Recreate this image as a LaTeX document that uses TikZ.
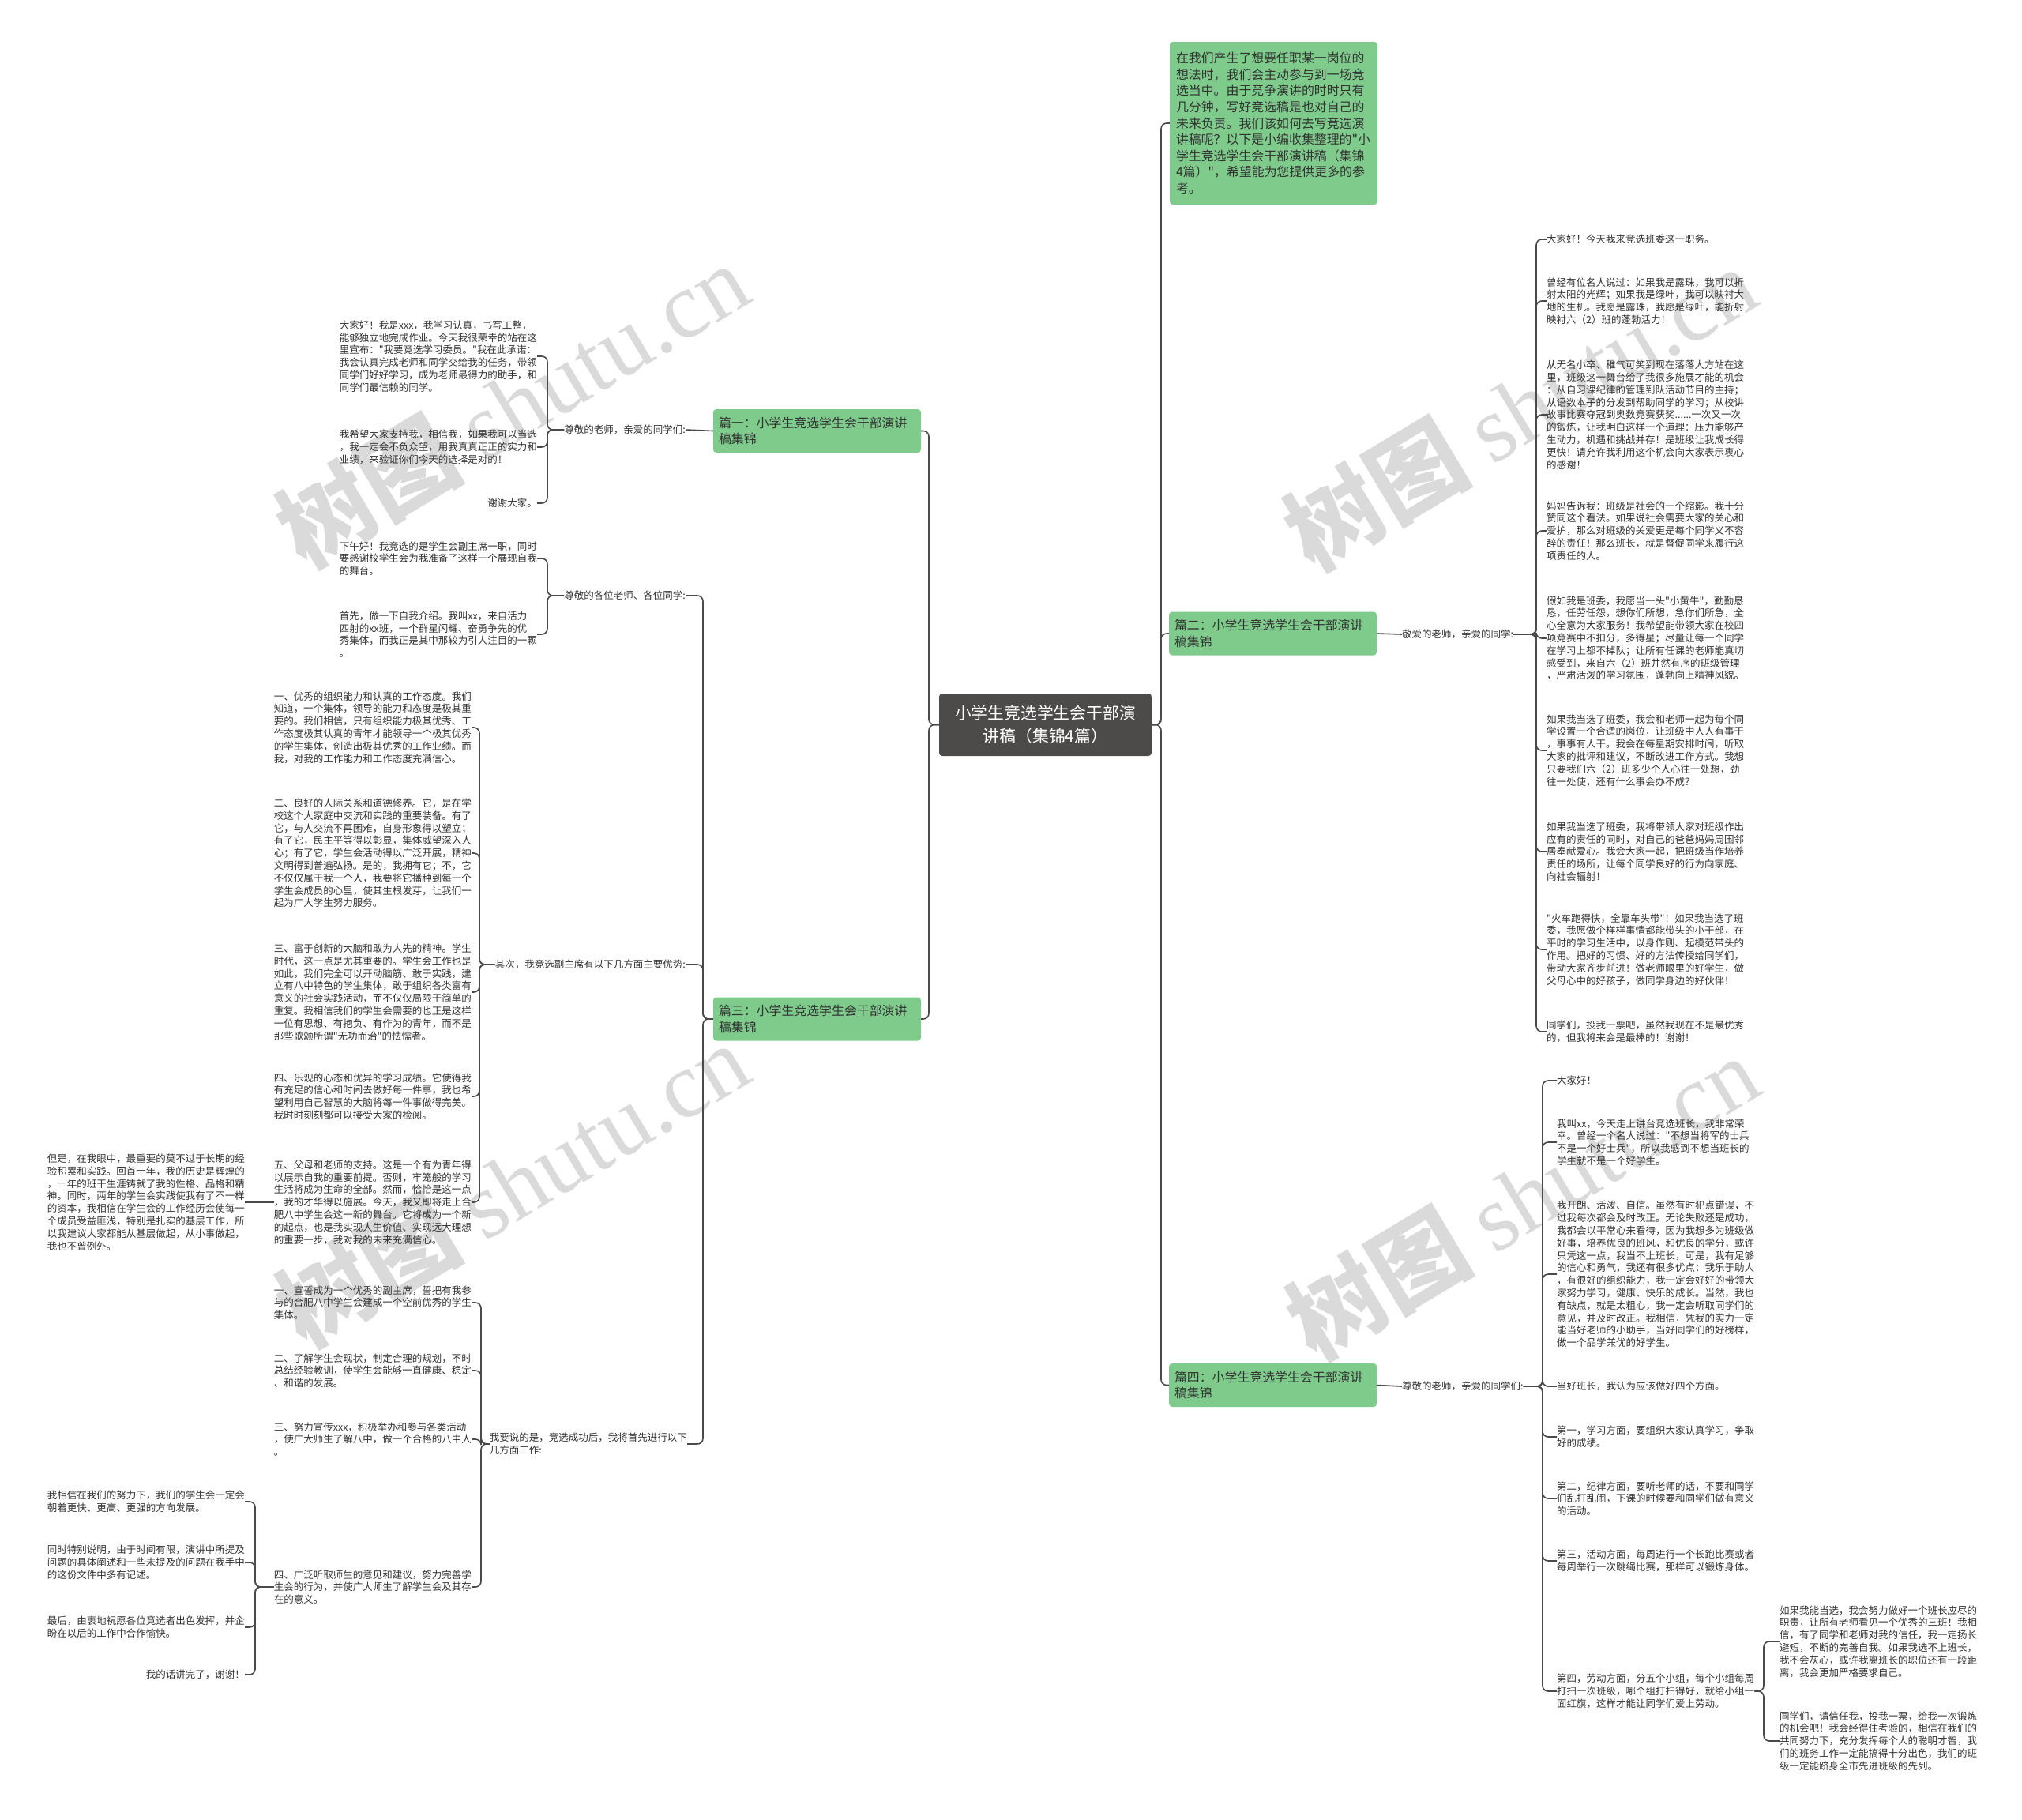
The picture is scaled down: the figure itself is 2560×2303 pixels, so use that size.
\documentclass[tikz,border=0pt]{standalone}
\usepackage{fontspec}
\newfontfamily\cjkf{Noto Sans CJK SC}
\newfontfamily\wmlat{Liberation Serif}
\definecolor{gc}{HTML}{7ECB8C}
\definecolor{cc}{HTML}{4D4A4A}
\definecolor{lc}{HTML}{4A4A4A}
\definecolor{txtc}{HTML}{333333}
\definecolor{wmc}{HTML}{DADADA}
\begin{document}
\begin{tikzpicture}[x=1pt,y=-1pt,
  txt/.style={font=\cjkf\fontsize{12.5}{15.8}\selectfont, align=left, inner sep=0pt, text=txtc},
  lt/.style={txt, anchor=east},
  rt/.style={txt, anchor=west},
  greenbox/.style={fill=gc, rounded corners=4pt, text=txtc, align=left,
     font=\cjkf\fontsize{15.9}{20.6}\selectfont},
  branch/.style={greenbox, text width=249pt, inner xsep=7pt, inner ysep=0pt, minimum height=55pt},
  conn/.style={draw=lc, line width=1.6pt, rounded corners=7pt},
  wm/.style={rotate=31, text=wmc, font=\cjkf\fontsize{119}{119}\selectfont, inner sep=0pt}
]
\useasboundingbox[fill=white] (0,0) rectangle (2560,2303);

% watermarks
\node[wm] (wm1) at (648,512) {{\bfseries 树图} {\wmlat shutu.cn}};
\node[wm] (wm2) at (1924,516) {{\bfseries 树图} {\wmlat shutu.cn}};
\node[wm] (wm3) at (648,1499) {{\bfseries 树图} {\wmlat shutu.cn}};
\node[wm] (wm4) at (1927,1515) {{\bfseries 树图} {\wmlat shutu.cn}};

% central
\node[fill=cc, text=white, rounded corners=4pt, align=center, minimum width=269pt, minimum height=79pt,
  inner sep=0pt, font=\cjkf\fontsize{20.8}{29}\selectfont] (c) at (1323.5,917.5) {小学生竞选学生会干部演\\讲稿（集锦4篇）};

% intro
\node[greenbox, text width=247pt, inner xsep=8pt, inner ysep=0pt, minimum height=206pt] (intro) at (1612.5,156)
 {在我们产生了想要任职某一岗位的\\想法时，我们会主动参与到一场竞\\选当中。由于竞争演讲的时时只有\\几分钟，写好竞选稿是也对自己的\\未来负责。我们该如何去写竞选演\\讲稿呢？以下是小编收集整理的"小\\学生竞选学生会干部演讲稿（集锦\\4篇）"，希望能为您提供更多的参\\考。};

% branches
\node[branch] (p1) at (1034.5,545.5) {篇一：小学生竞选学生会干部演讲\\稿集锦};
\node[branch] (p3) at (1034.5,1290) {篇三：小学生竞选学生会干部演讲\\稿集锦};
\node[branch] (p2) at (1611.5,802) {篇二：小学生竞选学生会干部演讲\\稿集锦};
\node[branch] (p4) at (1611.5,1753.5) {篇四：小学生竞选学生会干部演讲\\稿集锦};

% labels
\node[lt] (l1) at (868,544) {尊敬的老师，亲爱的同学们:};
\node[lt] (l2) at (868,754) {尊敬的各位老师、各位同学:};
\node[lt] (l3) at (868,1221) {其次，我竞选副主席有以下几方面主要优势:};
\node[lt] (l4) at (870,1828) {我要说的是，竞选成功后，我将首先进行以下\\几方面工作:};
\node[rt] (r1) at (1775,803) {敬爱的老师，亲爱的同学:};
\node[rt] (r2) at (1775,1755) {尊敬的老师，亲爱的同学们:};

% group 1
\node[lt] (t1a) at (680,451) {大家好！我是xxx，我学习认真，书写工整，\\能够独立地完成作业。今天我很荣幸的站在这\\里宣布："我要竞选学习委员。"我在此承诺：\\我会认真完成老师和同学交给我的任务，带领\\同学们好好学习，成为老师最得力的助手，和\\同学们最信赖的同学。};
\node[lt] (t1b) at (680,566) {我希望大家支持我，相信我，如果我可以当选\\，我一定会不负众望，用我真真正正的实力和\\业绩，来验证你们今天的选择是对的！};
\node[lt] (t1c) at (680,637) {谢谢大家。};

% group 2
\node[lt] (t2a) at (680,707) {下午好！我竞选的是学生会副主席一职，同时\\要感谢校学生会为我准备了这样一个展现自我\\的舞台。};
\node[lt] (t2b) at (680,803) {首先，做一下自我介绍。我叫xx，来自活力\\四射的xx班，一个群星闪耀、奋勇争先的优\\秀集体，而我正是其中那较为引人注目的一颗\\。};

% group 3
\node[lt] (t3a) at (597,921) {一、优秀的组织能力和认真的工作态度。我们\\知道，一个集体，领导的能力和态度是极其重\\要的。我们相信，只有组织能力极其优秀、工\\作态度极其认真的青年才能领导一个极其优秀\\的学生集体，创造出极其优秀的工作业绩。而\\我，对我的工作能力和工作态度充满信心。};
\node[lt] (t3b) at (597,1080) {二、良好的人际关系和道德修养。它，是在学\\校这个大家庭中交流和实践的重要装备。有了\\它，与人交流不再困难，自身形象得以塑立；\\有了它，民主平等得以彰显，集体威望深入人\\心；有了它，学生会活动得以广泛开展，精神\\文明得到普遍弘扬。是的，我拥有它；不，它\\不仅仅属于我一个人，我要将它播种到每一个\\学生会成员的心里，使其生根发芽，让我们一\\起为广大学生努力服务。};
\node[lt] (t3c) at (597,1256) {三、富于创新的大脑和敢为人先的精神。学生\\时代，这一点是尤其重要的。学生会工作也是\\如此，我们完全可以开动脑筋、敢于实践，建\\立有八中特色的学生集体，敢于组织各类富有\\意义的社会实践活动，而不仅仅局限于简单的\\重复。我相信我们的学生会需要的也正是这样\\一位有思想、有抱负、有作为的青年，而不是\\那些歌颂所谓"无功而治"的怯懦者。};
\node[lt] (t3d) at (597,1388) {四、乐观的心态和优异的学习成绩。它使得我\\有充足的信心和时间去做好每一件事，我也希\\望利用自己智慧的大脑将每一件事做得完美。\\我时时刻刻都可以接受大家的检阅。};
\node[lt] (t3e) at (597,1522) {五、父母和老师的支持。这是一个有为青年得\\以展示自我的重要前提。否则，牢笼般的学习\\生活将成为生命的全部。然而，恰恰是这一点\\，我的才华得以施展。今天，我又即将走上合\\肥八中学生会这一新的舞台。它将成为一个新\\的起点，也是我实现人生价值、实现远大理想\\的重要一步，我对我的未来充满信心。};
\node[lt] (t3f) at (310,1522) {但是，在我眼中，最重要的莫不过于长期的经\\验积累和实践。回首十年，我的历史是辉煌的\\，十年的班干生涯铸就了我的性格、品格和精\\神。同时，两年的学生会实践使我有了不一样\\的资本，我相信在学生会的工作经历会使每一\\个成员受益匪浅，特别是扎实的基层工作，所\\以我建议大家都能从基层做起，从小事做起，\\我也不曾例外。};

% group 4
\node[lt] (t4a) at (597,1649) {一、宣誓成为一个优秀的副主席，誓把有我参\\与的合肥八中学生会建成一个空前优秀的学生\\集体。};
\node[lt] (t4b) at (597,1735) {二、了解学生会现状，制定合理的规划，不时\\总结经验教训，使学生会能够一直健康、稳定\\、和谐的发展。};
\node[lt] (t4c) at (597,1822) {三、努力宣传xxx，积极举办和参与各类活动\\，使广大师生了解八中，做一个合格的八中人\\。};
\node[lt] (t4d) at (597,2009) {四、广泛听取师生的意见和建议，努力完善学\\生会的行为，并使广大师生了解学生会及其存\\在的意义。};

% group 5
\node[lt] (t5a) at (310,1901) {我相信在我们的努力下，我们的学生会一定会\\朝着更快、更高、更强的方向发展。};
\node[lt] (t5b) at (310,1978) {同时特别说明，由于时间有限，演讲中所提及\\问题的具体阐述和一些未提及的问题在我手中\\的这份文件中多有记述。};
\node[lt] (t5c) at (310,2060) {最后，由衷地祝愿各位竞选者出色发挥，并企\\盼在以后的工作中合作愉快。};
\node[lt] (t5d) at (310,2120) {我的话讲完了，谢谢！};

% right group (篇二)
\node[rt] (s1a) at (1958,303) {大家好！今天我来竞选班委这一职务。};
\node[rt] (s1b) at (1958,381) {曾经有位名人说过：如果我是露珠，我可以折\\射太阳的光辉；如果我是绿叶，我可以映衬大\\地的生机。我愿是露珠，我愿是绿叶，能折射\\映衬六（2）班的蓬勃活力！};
\node[rt] (s1c) at (1958,525) {从无名小卒、稚气可笑到现在落落大方站在这\\里，班级这一舞台给了我很多施展才能的机会\\：从自习课纪律的管理到队活动节目的主持；\\从语数本子的分发到帮助同学的学习；从校讲\\故事比赛夺冠到奥数竞赛获奖......一次又一次\\的锻炼，让我明白这样一个道理：压力能够产\\生动力，机遇和挑战并存！是班级让我成长得\\更快！请允许我利用这个机会向大家表示衷心\\的感谢！};
\node[rt] (s1d) at (1958,672) {妈妈告诉我：班级是社会的一个缩影。我十分\\赞同这个看法。如果说社会需要大家的关心和\\爱护，那么对班级的关爱更是每个同学义不容\\辞的责任！那么班长，就是督促同学来履行这\\项责任的人。};
\node[rt] (s1e) at (1958,808) {假如我是班委，我愿当一头"小黄牛"，勤勤恳\\恳，任劳任怨，想你们所想，急你们所急，全\\心全意为大家服务！我希望能带领大家在校四\\项竞赛中不扣分，多得星；尽量让每一个同学\\在学习上都不掉队；让所有任课的老师能真切\\感受到，来自六（2）班井然有序的班级管理\\，严肃活泼的学习氛围，蓬勃向上精神风貌。};
\node[rt] (s1f) at (1958,950) {如果我当选了班委，我会和老师一起为每个同\\学设置一个合适的岗位，让班级中人人有事干\\，事事有人干。我会在每星期安排时间，听取\\大家的批评和建议，不断改进工作方式。我想\\只要我们六（2）班多少个人心往一处想，劲\\往一处使，还有什么事会办不成？};
\node[rt] (s1g) at (1958,1078) {如果我当选了班委，我将带领大家对班级作出\\应有的责任的同时，对自己的爸爸妈妈周围邻\\居奉献爱心。我会大家一起，把班级当作培养\\责任的场所，让每个同学良好的行为向家庭、\\向社会辐射！};
\node[rt] (s1h) at (1958,1202) {"火车跑得快，全靠车头带"！如果我当选了班\\委，我愿做个样样事情都能带头的小干部，在\\平时的学习生活中，以身作则、起模范带头的\\作用。把好的习惯、好的方法传授给同学们，\\带动大家齐步前进！做老师眼里的好学生，做\\父母心中的好孩子，做同学身边的好伙伴！};
\node[rt] (s1i) at (1958,1306) {同学们，投我一票吧，虽然我现在不是最优秀\\的，但我将来会是最棒的！谢谢！};

% right group (篇四)
\node[rt] (s2a) at (1971,1368) {大家好！};
\node[rt] (s2b) at (1971,1446) {我叫xx，今天走上讲台竞选班长，我非常荣\\幸。曾经一个名人说过："不想当将军的士兵\\不是一个好士兵"，所以我感到不想当班长的\\学生就不是一个好学生。};
\node[rt] (s2c) at (1971,1613) {我开朗、活泼、自信。虽然有时犯点错误，不\\过我每次都会及时改正。无论失败还是成功，\\我都会以平常心来看待，因为我想多为班级做\\好事，培养优良的班风，和优良的学分，或许\\只凭这一点，我当不上班长，可是，我有足够\\的信心和勇气，我还有很多优点：我乐于助人\\，有很好的组织能力，我一定会好好的带领大\\家努力学习，健康、快乐的成长。当然，我也\\有缺点，就是太粗心，我一定会听取同学们的\\意见，并及时改正。我相信，凭我的实力一定\\能当好老师的小助手，当好同学们的好榜样，\\做一个品学兼优的好学生。};
\node[rt] (s2d) at (1971,1755) {当好班长，我认为应该做好四个方面。};
\node[rt] (s2e) at (1971,1819) {第一，学习方面，要组织大家认真学习，争取\\好的成绩。};
\node[rt] (s2f) at (1971,1897) {第二，纪律方面，要听老师的话，不要和同学\\们乱打乱闹，下课的时候要和同学们做有意义\\的活动。};
\node[rt] (s2g) at (1971,1976) {第三，活动方面，每周进行一个长跑比赛或者\\每周举行一次跳绳比赛，那样可以锻炼身体。};
\node[rt] (s2h) at (1971,2141) {第四，劳动方面，分五个小组，每个小组每周\\打扫一次班级，哪个组打扫得好，就给小组一\\面红旗，这样才能让同学们爱上劳动。};
\node[rt] (s3a) at (2253,2078) {如果我能当选，我会努力做好一个班长应尽的\\职责，让所有老师看见一个优秀的三班！我相\\信，有了同学和老师对我的信任，我一定扬长\\避短，不断的完善自我。如果我选不上班长，\\我不会灰心，或许我离班长的职位还有一段距\\离，我会更加严格要求自己。};
\node[rt] (s3b) at (2253,2204) {同学们，请信任我，投我一票，给我一次锻炼\\的机会吧！我会经得住考验的，相信在我们的\\共同努力下，充分发挥每个人的聪明才智，我\\们的班务工作一定能搞得十分出色，我们的班\\级一定能跻身全市先进班级的先列。};

% bracket coordinates
\coordinate (bL) at (1176,0);
\coordinate (bR) at (1470,0);
\coordinate (b3) at (890,0);
\coordinate (g1) at (693,0);
\coordinate (g3) at (607,0);
\coordinate (g4) at (609,0);
\coordinate (g5) at (323,0);
\coordinate (h1) at (1945,0);
\coordinate (h2) at (1953,0);
\coordinate (h3) at (2233,0);

% main connectors
\foreach \n in {p1,p3} \draw[conn] (c.west) -- (c.west -| bL) |- (\n.east);
\foreach \n in {intro,p2,p4} \draw[conn] (c.east) -- (c.east -| bR) |- (\n.west);
\draw[conn] (p1.west) -- (l1.east);
\foreach \n in {l2,l3,l4} \draw[conn] (p3.west) -- (p3.west -| b3) |- (\n.east);
\draw[conn] (p2.east) -- (r1.west);
\draw[conn] (p4.east) -- (r2.west);

\foreach \n in {t1a,t1b,t1c} \draw[conn] (l1.west) -- (l1.west -| g1) |- (\n.east);
\foreach \n in {t2a,t2b} \draw[conn] (l2.west) -- (l2.west -| g1) |- (\n.east);
\foreach \n in {t3a,t3b,t3c,t3d,t3e} \draw[conn] (l3.west) -- (l3.west -| g3) |- (\n.east);
\draw[conn] (t3e.west) -- (t3f.east);
\foreach \n in {t4a,t4b,t4c,t4d} \draw[conn] (l4.west) -- (l4.west -| g4) |- (\n.east);
\foreach \n in {t5a,t5b,t5c,t5d} \draw[conn] (t4d.west) -- (t4d.west -| g5) |- (\n.east);

\foreach \n in {s1a,s1b,s1c,s1d,s1e,s1f,s1g,s1h,s1i} \draw[conn] (r1.east) -- (r1.east -| h1) |- (\n.west);
\foreach \n in {s2a,s2b,s2c,s2d,s2e,s2f,s2g,s2h} \draw[conn] (r2.east) -- (r2.east -| h2) |- (\n.west);
\foreach \n in {s3a,s3b} \draw[conn] (s2h.east) -- (s2h.east -| h3) |- (\n.west);
\end{tikzpicture}
\end{document}
